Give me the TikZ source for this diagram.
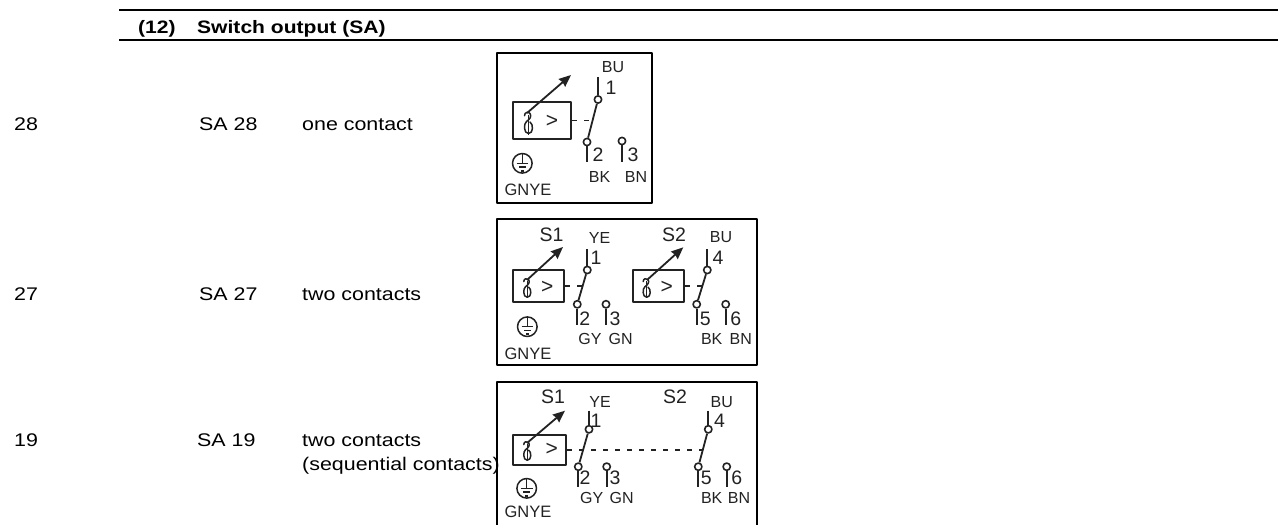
\documentclass[tikz,border=0pt]{standalone}
\usepackage{fontspec}
\setmainfont{Liberation Sans}
\newfontfamily\wide[FakeStretch=1.17]{Liberation Sans}
\usetikzlibrary{arrows.meta}
\definecolor{ink}{HTML}{222222}
\begin{document}
\begin{tikzpicture}[x=1pt,y=-1pt,line join=round]
\useasboundingbox (0,0) rectangle (1278,525);
\tikzset{
 rowtxt/.style={anchor=base west,inner sep=0pt,font=\wide\fontsize{18.3}{22}\selectfont},
 hdr/.style={anchor=base west,inner sep=0pt,font=\wide\bfseries\fontsize{18}{22}\selectfont},
 rulel/.style={line width=2pt},
 frame/.style={draw=black,line width=2.4pt},
 sensbox/.style={draw=ink,line width=2pt,inner sep=0pt,rectangle},
 stem/.style={draw=ink,line width=2.1pt},
 blade/.style={draw=ink,line width=1.8pt},
 term/.style={circle,draw=ink,line width=1.6pt,minimum size=7.3pt,inner sep=0pt},
 dsh/.style={draw=ink,line width=1.6pt,dash pattern=on 5pt off 7pt},
 sensarrow/.style={draw=ink,line width=1.8pt,-{Stealth[length=12pt,width=10pt,inset=1pt]}},
 lbl/.style={inner sep=0pt,text=ink,font=\fontsize{16}{18}\selectfont},
 gny/.style={inner sep=0pt,text=ink,font=\fontsize{16.5}{18}\selectfont},
 big/.style={inner sep=0pt,text=ink,font=\fontsize{19.5}{22}\selectfont},
 gt/.style={inner sep=0pt,text=ink,font=\fontsize{21}{24}\selectfont},
 gnd/.pic={
  \draw[ink,line width=1.5pt] (0,0) circle[radius=9.8pt];
  \draw[ink,line width=1.5pt] (0,-9.8) -- (0,0) (-5.8,0) -- (5.8,0)
     (-3.3,3.9) -- (3.3,3.9) (-1.4,7.5) -- (1.4,7.5);
 },
 thermo/.pic={
  \draw[ink,line width=1.5pt,line cap=round]
   (-4,-7.3) .. controls (-4,-11) and (0,-11.5) .. (1.5,-9.5)
   .. controls (3.5,-6.5) and (1,-3.5) .. (-2,-1.5)
   .. controls (-5,0.5) and (-5,10.5) .. (0,10.5)
   .. controls (5,10.5) and (5,1) .. (1.5,-1);
  \draw[ink,line width=1.5pt] (0,-8) -- (0,11.5);
 }
}
% ---------------- header ----------------
\coordinate (h0) at (119,10); \coordinate (h1) at (1278,10);
\coordinate (h2) at (119,40); \coordinate (h3) at (1278,40);
\draw[rulel] (h0) -- (h1);
\draw[rulel] (h2) -- (h3);
\node[hdr] (hnum) at (138,33) {(12)};
\node[hdr] (htitle) at (197,33) {Switch output (SA)};
% ---------------- row texts ----------------
\node[rowtxt] (r1a) at (14,130) {28};
\node[rowtxt] (r1b) at (199,130) {SA 28};
\node[rowtxt] (r1c) at (302,130) {one contact};
\node[rowtxt] (r2a) at (14,300) {27};
\node[rowtxt] (r2b) at (199,300) {SA 27};
\node[rowtxt] (r2c) at (302,300) {two contacts};
\node[rowtxt] (r3a) at (14,446) {19};
\node[rowtxt] (r3b) at (197,446) {SA 19};
\node[rowtxt] (r3c) at (302,446) {two contacts};
\node[rowtxt] (r3d) at (302,470) {(sequential contacts)};
% ================= box 1 =================
\draw[frame] (497,53) rectangle (652,203);
\node[sensbox,minimum width=58pt,minimum height=37pt] (b1s) at (542,120.5) {};
\pic at (528.5,123) {thermo};
\node[gt] (b1gt) at (552,121.5) {>};
\coordinate (b1a0) at (527,113); \coordinate (b1a1) at (571,75);
\draw[sensarrow] (b1a0) -- (b1a1);
\coordinate (b1t) at (598,77);
\node[term] (b1c1) at (598,99.5) {};
\node[term] (b1c2) at (587,142) {};
\node[term] (b1c3) at (622,141) {};
\coordinate (b1b2) at (587,162); \coordinate (b1b3) at (622,162);
\coordinate (b1x) at (592.4,121);
\draw[stem] (b1t) -- (b1c1);
\draw[stem] (b1c2) -- (b1b2);
\draw[stem] (b1c3) -- (b1b3);
\draw[blade] (b1c1) -- (b1c2);
\draw[dsh] (b1s.east) -- (b1s.east -| b1x);
\node[lbl] (b1bu) at (613,67) {BU};
\node[big] (b1n1) at (611,88) {1};
\node[big] (b1n2) at (598,155) {2};
\node[big] (b1n3) at (633,155) {3};
\node[lbl] (b1bk) at (599.5,177) {BK};
\node[lbl] (b1bn) at (636,177) {BN};
\pic at (522.3,163.3) {gnd};
\node[gny] (b1g) at (528,190) {GNYE};
% ================= box 2 =================
\draw[frame] (497,219) rectangle (757,365);
\node[big] (b2s1) at (551.5,235) {S1};
\node[lbl] (b2ye) at (599.5,237.5) {YE};
\node[sensbox,minimum width=51pt,minimum height=32pt] (b2s) at (538.5,286) {};
\pic[scale=0.88] at (527.3,288) {thermo};
\node[gt] (b2gt) at (547.3,287.2) {>};
\coordinate (b2a0) at (527,280); \coordinate (b2a1) at (563,247);
\draw[sensarrow] (b2a0) -- (b2a1);
\coordinate (b2t) at (587.3,249);
\node[term] (b2c1) at (587.3,270) {};
\node[term] (b2c2) at (577.3,304.3) {};
\node[term] (b2c3) at (606,304.3) {};
\coordinate (b2b2) at (577.3,325); \coordinate (b2b3) at (606,325);
\coordinate (b2x) at (582.6,286);
\draw[stem] (b2t) -- (b2c1);
\draw[stem] (b2c2) -- (b2b2);
\draw[stem] (b2c3) -- (b2b3);
\draw[blade] (b2c1) -- (b2c2);
\draw[dsh] (b2s.east) -- (b2s.east -| b2x);
\node[big] (b2n1) at (596,258) {1};
\node[big] (b2n2) at (584.7,319) {2};
\node[big] (b2n3) at (615,319) {3};
\node[lbl] (b2gy) at (590,338.7) {GY};
\node[lbl] (b2gn) at (620.7,338.7) {GN};
\pic at (527.3,326.7) {gnd};
\node[gny] (b2g) at (528,354) {GNYE};
% second switch
\node[big] (b2s2) at (674,235) {S2};
\node[lbl] (b2bu) at (721,237.5) {BU};
\node[sensbox,minimum width=51pt,minimum height=32pt] (b2r) at (658.8,286) {};
\pic[scale=0.88] at (646.7,288) {thermo};
\node[gt] (b2gt2) at (666.7,287.2) {>};
\coordinate (b2d0) at (647,280); \coordinate (b2d1) at (683.3,247.3);
\draw[sensarrow] (b2d0) -- (b2d1);
\coordinate (b2u) at (707.3,249);
\node[term] (b2c4) at (707.3,270) {};
\node[term] (b2c5) at (696.7,304.3) {};
\node[term] (b2c6) at (725.7,304.3) {};
\coordinate (b2b5) at (696.7,325); \coordinate (b2b6) at (725.7,325);
\coordinate (b2y) at (702.4,286);
\draw[stem] (b2u) -- (b2c4);
\draw[stem] (b2c5) -- (b2b5);
\draw[stem] (b2c6) -- (b2b6);
\draw[blade] (b2c4) -- (b2c5);
\draw[dsh] (b2r.east) -- (b2r.east -| b2y);
\node[big] (b2n4) at (718,258) {4};
\node[big] (b2n5) at (705.3,319) {5};
\node[big] (b2n6) at (735.7,319) {6};
\node[lbl] (b2bk) at (711.7,338.7) {BK};
\node[lbl] (b2bn) at (740.7,338.7) {BN};
% ================= box 3 =================
\draw[frame] (497,535) -- (497,382) -- (757,382) -- (757,535);
\node[big] (b3s1) at (553,397) {S1};
\node[lbl] (b3ye) at (600,402) {YE};
\node[sensbox,minimum width=53pt,minimum height=30pt] (b3s) at (539.7,450) {};
\pic[scale=0.88] at (527.3,451) {thermo};
\node[gt] (b3gt) at (551.7,449.3) {>};
\coordinate (b3a0) at (527,443); \coordinate (b3a1) at (565,410.7);
\draw[sensarrow] (b3a0) -- (b3a1);
\coordinate (b3t) at (589,410.7);
\node[term] (b3c1) at (589,429.3) {};
\node[term] (b3c2) at (578.3,466.7) {};
\node[term] (b3c3) at (606.7,466.7) {};
\coordinate (b3b2) at (578.3,486.7); \coordinate (b3b3) at (606.7,486.7);
\draw[stem] (b3t) -- (b3c1);
\draw[stem] (b3c2) -- (b3b2);
\draw[stem] (b3c3) -- (b3b3);
\draw[blade] (b3c1) -- (b3c2);
\node[big] (b3n1) at (596,420.5) {1};
\node[big] (b3n2) at (585,477.5) {2};
\node[big] (b3n3) at (615,477.5) {3};
\node[lbl] (b3gy) at (591.7,497.5) {GY};
\node[lbl] (b3gn) at (621.7,497.5) {GN};
\pic at (526.7,488.3) {gnd};
\node[gny] (b3g) at (528,511.7) {GNYE};
\node[big] (b3s2) at (675,396.5) {S2};
\node[lbl] (b3bu) at (721.7,402) {BU};
\coordinate (b3u) at (708.3,410.7);
\node[term] (b3c4) at (708.3,429.3) {};
\node[term] (b3c5) at (698.3,466.7) {};
\node[term] (b3c6) at (726.7,466.7) {};
\coordinate (b3b5) at (698.3,486.7); \coordinate (b3b6) at (726.7,486.7);
\coordinate (b3y) at (703,450);
\draw[stem] (b3u) -- (b3c4);
\draw[stem] (b3c5) -- (b3b5);
\draw[stem] (b3c6) -- (b3b6);
\draw[blade] (b3c4) -- (b3c5);
\draw[dsh] (b3s.east) -- (b3s.east -| b3y);
\node[big] (b3n4) at (719.5,420.5) {4};
\node[big] (b3n5) at (706.2,477.5) {5};
\node[big] (b3n6) at (736.7,477.5) {6};
\node[lbl] (b3bk) at (711.7,497.5) {BK};
\node[lbl] (b3bn) at (739,497.5) {BN};
\end{tikzpicture}
\end{document}
